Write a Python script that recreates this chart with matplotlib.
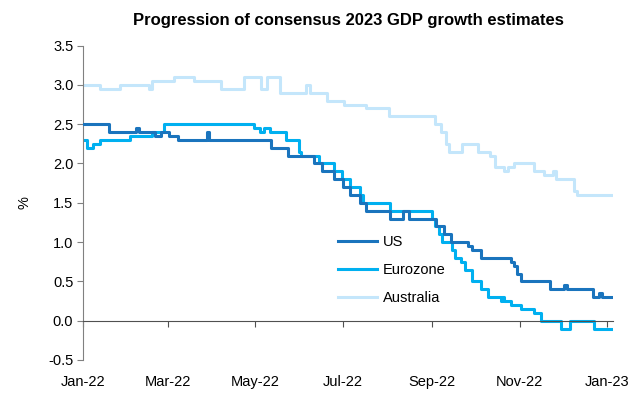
import matplotlib
matplotlib.use("Agg")
import matplotlib.pyplot as plt
import matplotlib.dates as mdates
import pandas as pd

plt.rcParams['font.family'] = ['Liberation Sans', 'DejaVu Sans']

# change points of each consensus estimate (value holds until next date)
us_dates = ['2022-01-01', '2022-01-19', '2022-02-07', '2022-02-09', '2022-02-20', '2022-02-24',
            '2022-03-02', '2022-03-08', '2022-03-28', '2022-03-30', '2022-05-12', '2022-05-24',
            '2022-06-11', '2022-06-16', '2022-06-25', '2022-07-01', '2022-07-06', '2022-07-13',
            '2022-07-17', '2022-08-03', '2022-08-12', '2022-08-16', '2022-09-04', '2022-09-09',
            '2022-09-14', '2022-09-26', '2022-09-29', '2022-10-05', '2022-10-26', '2022-10-28',
            '2022-10-30', '2022-11-02', '2022-11-22', '2022-12-02', '2022-12-04', '2022-12-22',
            '2022-12-26', '2022-12-28', '2023-01-04']
us_values = [2.5, 2.4, 2.45, 2.4, 2.35, 2.4,
             2.35, 2.3, 2.4, 2.3, 2.2, 2.1,
             2.0, 1.9, 1.8, 1.7, 1.6, 1.5,
             1.4, 1.3, 1.4, 1.3, 1.2, 1.1,
             1.0, 0.95, 0.9, 0.8, 0.75, 0.7,
             0.6, 0.5, 0.4, 0.45, 0.4, 0.3,
             0.35, 0.3, 0.3]

ez_dates = ['2022-01-01', '2022-01-04', '2022-01-08', '2022-01-13', '2022-02-03', '2022-02-18',
            '2022-02-26', '2022-04-30', '2022-05-04', '2022-05-07', '2022-05-11', '2022-05-22',
            '2022-05-31', '2022-06-02', '2022-06-14', '2022-06-25', '2022-06-30', '2022-07-06',
            '2022-07-13', '2022-07-15', '2022-08-03', '2022-09-01', '2022-09-03', '2022-09-06',
            '2022-09-08', '2022-09-15', '2022-09-17', '2022-09-21', '2022-09-24', '2022-09-29',
            '2022-10-05', '2022-10-10', '2022-10-19', '2022-10-20', '2022-10-21', '2022-10-26',
            '2022-11-02', '2022-11-11', '2022-11-16', '2022-11-30', '2022-12-06', '2022-12-23',
            '2023-01-04']
ez_values = [2.3, 2.2, 2.25, 2.3, 2.35, 2.4,
             2.5, 2.45, 2.4, 2.45, 2.4, 2.3,
             2.15, 2.1, 2.0, 1.9, 1.8, 1.7,
             1.6, 1.5, 1.4, 1.3, 1.2, 1.1,
             1.0, 0.9, 0.8, 0.75, 0.65, 0.5,
             0.4, 0.3, 0.25, 0.3, 0.25, 0.2,
             0.15, 0.1, 0.0, -0.1, 0.0, -0.1,
             -0.1]

au_dates = ['2022-01-01', '2022-01-13', '2022-01-27', '2022-02-16', '2022-02-18', '2022-03-05',
            '2022-03-19', '2022-04-07', '2022-04-23', '2022-05-05', '2022-05-09', '2022-05-18',
            '2022-06-05', '2022-06-08', '2022-06-20', '2022-07-02', '2022-07-17', '2022-08-02',
            '2022-09-03', '2022-09-07', '2022-09-11', '2022-09-13', '2022-09-22', '2022-10-03',
            '2022-10-11', '2022-10-15', '2022-10-21', '2022-10-24', '2022-10-28', '2022-11-11',
            '2022-11-18', '2022-11-24', '2022-11-26', '2022-12-09', '2022-12-11', '2023-01-04']
au_values = [3.0, 2.95, 3.0, 2.95, 3.05, 3.1,
             3.05, 2.95, 3.1, 2.95, 3.1, 2.9,
             3.0, 2.9, 2.8, 2.75, 2.7, 2.6,
             2.5, 2.4, 2.25, 2.15, 2.25, 2.15,
             2.1, 1.95, 1.9, 1.95, 2.0, 1.9,
             1.85, 1.9, 1.8, 1.65, 1.6, 1.6]

fig = plt.figure(figsize=(6.44, 3.94), dpi=100)
ax = fig.add_axes([0.129, 0.0863, 0.823, 0.798])

ax.plot(pd.to_datetime(us_dates), us_values, drawstyle='steps-post', color='#1a74bd', lw=2.2, label='US', zorder=3)
ax.plot(pd.to_datetime(ez_dates), ez_values, drawstyle='steps-post', color='#00b0f0', lw=2.2, label='Eurozone', zorder=2)
ax.plot(pd.to_datetime(au_dates), au_values, drawstyle='steps-post', color='#c4e6fb', lw=2.2, label='Australia', zorder=1)

ax.set_xlim(pd.Timestamp('2022-01-01'), pd.Timestamp('2023-01-05'))
ax.set_ylim(-0.5, 3.5)
ax.set_yticks([-0.5, 0.0, 0.5, 1.0, 1.5, 2.0, 2.5, 3.0, 3.5])
ax.yaxis.set_major_formatter(matplotlib.ticker.FormatStrFormatter('%.1f'))
ax.xaxis.set_major_locator(mdates.MonthLocator(bymonth=[1, 3, 5, 7, 9, 11]))
ax.xaxis.set_major_formatter(mdates.DateFormatter('%b-%y'))

ax.spines['top'].set_visible(False)
ax.spines['right'].set_visible(False)
ax.spines['left'].set_color('#808080')
ax.spines['bottom'].set_position(('data', 0))
ax.spines['bottom'].set_color('#505050')
ax.tick_params(axis='y', direction='out', length=4, color='#808080', labelsize=10.5, pad=3)
ax.tick_params(axis='x', direction='out', length=4, color='#505050', labelsize=10.5, pad=35)

ax.set_ylabel('%', fontsize=10.5, labelpad=12)
ax.set_title('Progression of consensus 2023 GDP growth estimates', fontsize=12, fontweight='bold', pad=15)

ax.legend(loc='upper left', bbox_to_anchor=(0.481, 0.397), frameon=False, fontsize=10.5,
          handlelength=2.7, handletextpad=0.35, labelspacing=0.95, borderpad=0, borderaxespad=0)

fig.savefig('out.png', dpi=100)
